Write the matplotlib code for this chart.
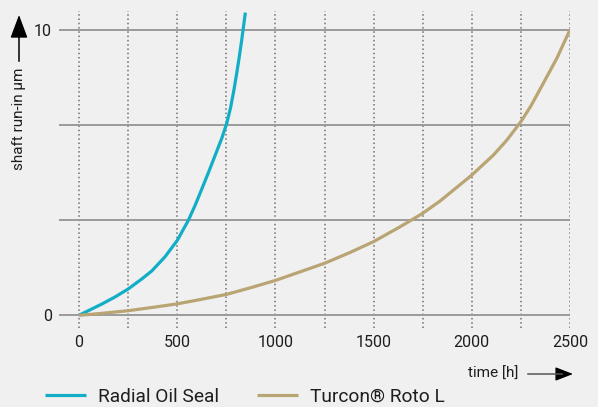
import matplotlib
matplotlib.use('Agg')
import matplotlib.pyplot as plt

plt.rcParams['font.family'] = ['Roboto', 'DejaVu Sans']

seal_h = [0, 47, 115, 183, 250, 319, 370, 438, 500, 557, 591, 625, 659, 693, 727,
          752, 772, 789, 803, 816, 828, 835, 847]
seal_um = [0, 0.16, 0.39, 0.64, 0.92, 1.27, 1.55, 2.05, 2.62, 3.33, 3.85, 4.42, 5.0,
           5.6, 6.2, 6.72, 7.28, 7.90, 8.48, 9.05, 9.62, 9.98, 10.6]

roto_h = [0, 73, 250, 378, 500, 616, 750, 871, 1000, 1125, 1250, 1380, 1500, 1635,
          1750, 1838, 2000, 2110, 2178, 2250, 2300, 2348, 2433, 2500]
roto_um = [0, 0.04, 0.16, 0.28, 0.40, 0.55, 0.73, 0.96, 1.22, 1.52, 1.82, 2.20, 2.58,
           3.10, 3.57, 4.0, 4.91, 5.61, 6.13, 6.78, 7.32, 7.92, 9.0, 10.0]

grid_x = list(range(0, 2501, 250))
grid_y = [0, 10 / 3, 20 / 3, 10]
xticks = [0, 500, 1000, 1500, 2000, 2500]
yticks = [0, 10]

bg = '#f0f0f0'
blue = '#12aec8'
tan = '#b9a473'
txt = '#1e1e1e'

W, H = 598, 407
fig = plt.figure(figsize=(W / 100, H / 100), dpi=100, facecolor=bg)
ax = fig.add_axes([59 / W, 1 - 328 / H, (570 - 59) / W, (328 - 11) / H])
ax.set_facecolor(bg)

for gx in grid_x:
    ax.axvline(gx, color='#707070', lw=1.1, ls=(0, (1, 1.8)), zorder=1)
for gy in grid_y:
    ax.axhline(gy, color='#9a9a9a', lw=1.4, zorder=1)

ax.plot(seal_h, seal_um, color=blue, lw=2.3, label='Radial Oil Seal', zorder=3,
        solid_capstyle='butt', solid_joinstyle='round')
ax.plot(roto_h, roto_um, color=tan, lw=2.3, label='Turcon® Roto L', zorder=3,
        solid_capstyle='butt', solid_joinstyle='round')

ax.set_xlim(-102, 2500)
ax.set_ylim(-0.445, 10.655)
for s in ax.spines.values():
    s.set_visible(False)
ax.set_xticks(xticks)
ax.set_yticks(yticks)
ax.tick_params(length=0, labelsize=11.5, colors=txt)
ax.tick_params(axis='x', pad=5)
ax.tick_params(axis='y', pad=5)

# axis titles with arrows
fig.text(19 / W, 1 - 119 / H, 'shaft run-in µm', rotation=90, ha='center', va='center',
         fontsize=11, color=txt)
fig.add_artist(plt.Line2D([19 / W, 19 / W], [1 - 61 / H, 1 - 30 / H], color='black', lw=1.1))
ax.annotate('', xy=(19 / W, 1 - 15 / H), xytext=(19 / W, 1 - 32 / H), xycoords='figure fraction',
            arrowprops=dict(arrowstyle='-|>,head_length=1.2,head_width=0.45', color='black',
                            lw=1, shrinkA=0, shrinkB=0, mutation_scale=12))

fig.text(492.8 / W, 1 - 374 / H, 'time [h]', ha='center', va='center', fontsize=11, color=txt)
fig.add_artist(plt.Line2D([528 / W, 562 / W], [1 - 374 / H, 1 - 374 / H], color='#555555', lw=1.1))
ax.annotate('', xy=(573 / W, 1 - 374 / H), xytext=(560 / W, 1 - 374 / H), xycoords='figure fraction',
            arrowprops=dict(arrowstyle='-|>,head_length=0.9,head_width=0.35', color='black',
                            lw=1, shrinkA=0, shrinkB=0, mutation_scale=12))

leg = ax.legend(loc='center left', bbox_to_anchor=(45 / W, 1 - 397 / H),
                bbox_transform=fig.transFigure, ncol=2, frameon=False, fontsize=13.8,
                handlelength=2.15, handletextpad=0.6, columnspacing=2.0,
                borderpad=0, borderaxespad=0)
for t in leg.get_texts():
    t.set_color(txt)

fig.savefig('out.png', dpi=100, facecolor=bg)
